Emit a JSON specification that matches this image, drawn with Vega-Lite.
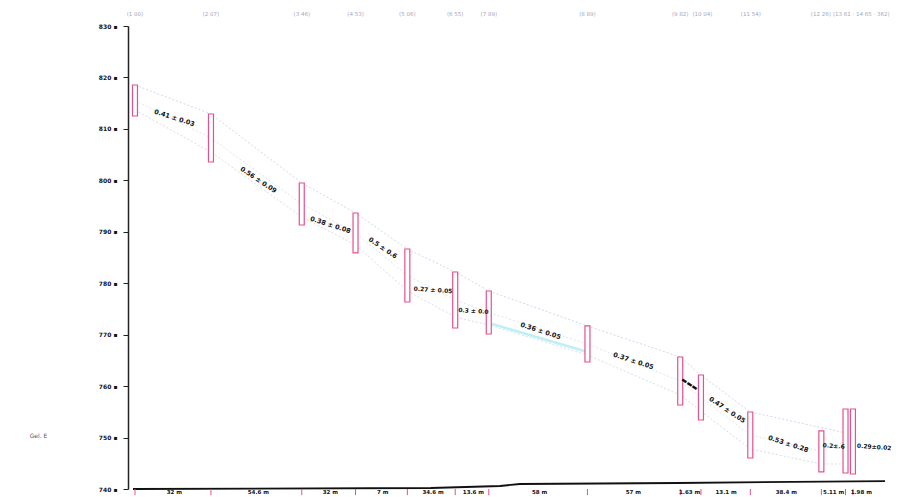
{
  "$schema": "https://vega.github.io/schema/vega-lite/v6.json",
  "autosize": {"type": "none"},
  "width": 762,
  "height": 463,
  "padding": {"left": 128, "top": 26, "right": 30, "bottom": 8},
  "background": "white",
  "config": {"view": {"stroke": null}, "font": "DejaVu Sans"},
  "datasets": {
    "lines": [
      {"series": "upper", "x": 1, "y": 818.53}, {"series": "upper", "x": 39.5, "y": 812.89}, {"series": "upper", "x": 85.5, "y": 799.48}, {"series": "upper", "x": 112.75, "y": 793.65}, {"series": "upper", "x": 139, "y": 786.65}, {"series": "upper", "x": 163.25, "y": 782.18}, {"series": "upper", "x": 180.25, "y": 778.49}, {"series": "upper", "x": 230.25, "y": 771.69}, {"series": "upper", "x": 277.25, "y": 765.66}, {"series": "upper", "x": 287.75, "y": 762.16}, {"series": "upper", "x": 312.75, "y": 754.97}, {"series": "upper", "x": 361, "y": 750.9},
      {"series": "mid", "x": 1, "y": 815.52}, {"series": "mid", "x": 39.5, "y": 808.23}, {"series": "mid", "x": 85.5, "y": 795.4}, {"series": "mid", "x": 112.75, "y": 789.76}, {"series": "mid", "x": 139, "y": 781.5}, {"series": "mid", "x": 163.25, "y": 776.74}, {"series": "mid", "x": 180.25, "y": 774.31}, {"series": "mid", "x": 230.25, "y": 768.19}, {"series": "mid", "x": 277.25, "y": 761.0}, {"series": "mid", "x": 287.75, "y": 757.79}, {"series": "mid", "x": 312.75, "y": 750.5}, {"series": "mid", "x": 348.75, "y": 747.29}, {"series": "mid", "x": 361, "y": 749.33},
      {"series": "lower", "x": 1, "y": 813.67}, {"series": "lower", "x": 39.5, "y": 805.51}, {"series": "lower", "x": 85.5, "y": 792.87}, {"series": "lower", "x": 112.75, "y": 787.43}, {"series": "lower", "x": 139, "y": 778.49}, {"series": "lower", "x": 163.25, "y": 773.44}, {"series": "lower", "x": 180.25, "y": 771.88}, {"series": "lower", "x": 230.25, "y": 766.05}, {"series": "lower", "x": 277.25, "y": 758.27}, {"series": "lower", "x": 287.75, "y": 755.16}, {"series": "lower", "x": 312.75, "y": 747.78}, {"series": "lower", "x": 348.75, "y": 744.86}, {"series": "lower", "x": 361, "y": 744.86},
      {"series": "cyan", "x": 180.25, "y": 772.27}, {"series": "cyan", "x": 230.25, "y": 766.63}
    ],
    "ground": [
      {"x": 0, "y": 740}, {"x": 151, "y": 740.19}, {"x": 186, "y": 740.58}, {"x": 196, "y": 740.97}, {"x": 276, "y": 741.17}, {"x": 381, "y": 741.55}
    ],
    "boxes": [
      {"x": 1, "top": 818.53, "bottom": 812.51}, {"x": 39.5, "top": 812.89, "bottom": 803.56}, {"x": 85.5, "top": 799.48, "bottom": 791.32}, {"x": 112.75, "top": 793.65, "bottom": 785.88}, {"x": 139, "top": 786.65, "bottom": 776.35}, {"x": 163.25, "top": 782.18, "bottom": 771.3}, {"x": 180.25, "top": 778.49, "bottom": 770.13}, {"x": 230.25, "top": 771.69, "bottom": 764.69}, {"x": 277.25, "top": 765.66, "bottom": 756.33}, {"x": 287.75, "top": 762.16, "bottom": 753.41}, {"x": 312.75, "top": 754.97, "bottom": 746.03}, {"x": 348.75, "top": 751.28, "bottom": 743.31}, {"x": 361, "top": 755.55, "bottom": 743.11}, {"x": 364.75, "top": 755.55, "bottom": 742.92}
    ],
    "steep": [
      {"x": 63.5, "y": 800.07, "t": "0.56 ± 0.09"}, {"x": 126.5, "y": 786.85, "t": "0.5 ± 0.6"}, {"x": 282, "y": 760.41, "t": "▬▬▬"}, {"x": 301, "y": 755.36, "t": "0.47 ± 0.05"}
    ],
    "medium": [
      {"x": 21, "y": 812.12, "t": "0.41 ± 0.03"}, {"x": 100, "y": 791.32, "t": "0.38 ± 0.08"}, {"x": 206.5, "y": 770.71, "t": "0.36 ± 0.05"}, {"x": 253.5, "y": 764.88, "t": "0.37 ± 0.05"}, {"x": 332, "y": 748.75, "t": "0.53 ± 0.28"}
    ],
    "flat": [
      {"x": 152, "y": 778.68, "t": "0.27 ± 0.05"}, {"x": 172.5, "y": 774.6, "t": "0.3 ± 0.0"}, {"x": 355, "y": 748.36, "t": "0.2±.6"}, {"x": 375.5, "y": 748.17, "t": "0.29±0.02"}
    ],
    "top": [
      {"x": 1, "t": "(1 00)"}, {"x": 39.5, "t": "(2 07)"}, {"x": 85.5, "t": "(3 46)"}, {"x": 112.75, "t": "(4 53)"}, {"x": 139, "t": "(5 06)"}, {"x": 163.25, "t": "(6 55)"}, {"x": 180.25, "t": "(7 89)"}, {"x": 230.25, "t": "(8 89)"}, {"x": 277.25, "t": "(9 82)"}, {"x": 288.5, "t": "(10 04)"}, {"x": 313, "t": "(11 54)"}, {"x": 348.5, "t": "(12 26)"}, {"x": 369, "t": "(13 61 · 14 65 · 362)"}
    ],
    "bottom": [
      {"x": 21, "t": "32 m"}, {"x": 63.5, "t": "54.6 m"}, {"x": 100, "t": "32 m"}, {"x": 126.5, "t": "7 m"}, {"x": 152, "t": "34.6 m"}, {"x": 172.5, "t": "13.6 m"}, {"x": 206, "t": "58 m"}, {"x": 253.5, "t": "57 m"}, {"x": 282, "t": "1.63 m"}, {"x": 300.5, "t": "13.1 m"}, {"x": 331, "t": "38.4 m"}, {"x": 355, "t": "5.11 m"}, {"x": 369, "t": "1.98 m"}
    ]
  },
  "layer": [
    {
      "data": {"name": "lines"},
      "mark": {"type": "line", "strokeWidth": 0.7, "strokeDash": [2, 2]},
      "encoding": {
        "x": {"field": "x", "type": "quantitative", "scale": {"domain": [0, 381], "nice": false}, "axis": null},
        "y": {"field": "y", "type": "quantitative", "scale": {"domain": [740, 830], "nice": false, "zero": false},
          "axis": {"values": [740, 745, 750, 755, 760, 765, 770, 775, 780, 785, 790, 795, 800, 805, 810, 815, 820, 825, 830],
            "labelExpr": "datum.label + ' ▪'", "labelFontSize": 6, "labelFontWeight": "bold", "labelColor": "#111",
            "tickSize": 5, "tickColor": "#222", "domainColor": "#222", "domainWidth": 1.5, "labelPadding": 6, "grid": false,
            "title": "Gel. E", "titleAngle": 0, "titleX": -90, "titleY": 409, "titleAlign": "center", "titleBaseline": "middle",
            "titleFontSize": 6, "titleFontWeight": "normal", "titleColor": "#556"}},
        "color": {"field": "series", "type": "nominal", "legend": null,
          "scale": {"domain": ["upper", "mid", "lower", "cyan"], "range": ["#bcc6e6", "#cdd8ee", "#c6cde6", "#a8e6f0"]}},
        "detail": {"field": "series"}
      }
    },
    {
      "data": {"name": "lines"},
      "transform": [{"filter": "datum.series == 'cyan'"}],
      "mark": {"type": "line", "strokeWidth": 2.5, "color": "#bdf0f6"},
      "encoding": {"x": {"field": "x", "type": "quantitative"}, "y": {"field": "y", "type": "quantitative"}}
    },
    {
      "data": {"name": "ground"},
      "mark": {"type": "line", "color": "#111", "strokeWidth": 1.8, "clip": false},
      "encoding": {"x": {"field": "x", "type": "quantitative"}, "y": {"field": "y", "type": "quantitative"}}
    },
    {
      "data": {"name": "boxes"},
      "mark": {"type": "bar", "size": 5, "fill": "white", "stroke": "#e8508c", "strokeWidth": 1.2, "clip": false},
      "encoding": {"x": {"field": "x", "type": "quantitative"}, "y": {"field": "top", "type": "quantitative"}, "y2": {"field": "bottom"}}
    },
    {
      "data": {"name": "boxes"},
      "mark": {"type": "rule", "color": "#e8508c", "strokeWidth": 1, "clip": false},
      "encoding": {"x": {"field": "x", "type": "quantitative"}, "y": {"datum": 740}, "y2": {"datum": 738.8}}
    },
    {
      "data": {"name": "steep"},
      "mark": {"type": "text", "angle": 34, "fontSize": 6.5, "fontWeight": 900, "color": "#111", "align": "center", "baseline": "middle"},
      "encoding": {"x": {"field": "x", "type": "quantitative"}, "y": {"field": "y", "type": "quantitative"}, "text": {"field": "t"}}
    },
    {
      "data": {"name": "medium"},
      "mark": {"type": "text", "angle": 18, "fontSize": 6.5, "fontWeight": 900, "color": "#111", "align": "center", "baseline": "middle"},
      "encoding": {"x": {"field": "x", "type": "quantitative"}, "y": {"field": "y", "type": "quantitative"}, "text": {"field": "t"}}
    },
    {
      "data": {"name": "flat"},
      "mark": {"type": "text", "angle": 4, "fontSize": 6, "fontWeight": 900, "color": "#111", "align": "center", "baseline": "middle"},
      "encoding": {"x": {"field": "x", "type": "quantitative"}, "y": {"field": "y", "type": "quantitative"}, "text": {"field": "t"}}
    },
    {
      "data": {"name": "top"},
      "mark": {"type": "text", "fontSize": 5.5, "color": "#a2a8c2", "align": "center", "baseline": "middle", "clip": false},
      "encoding": {"x": {"field": "x", "type": "quantitative"}, "y": {"datum": 832.3}, "text": {"field": "t"}}
    },
    {
      "data": {"name": "bottom"},
      "mark": {"type": "text", "fontSize": 5.5, "fontWeight": "bold", "color": "#111", "align": "center", "baseline": "middle", "clip": false},
      "encoding": {"x": {"field": "x", "type": "quantitative"}, "y": {"datum": 739.4}, "text": {"field": "t"}}
    }
  ]
}
